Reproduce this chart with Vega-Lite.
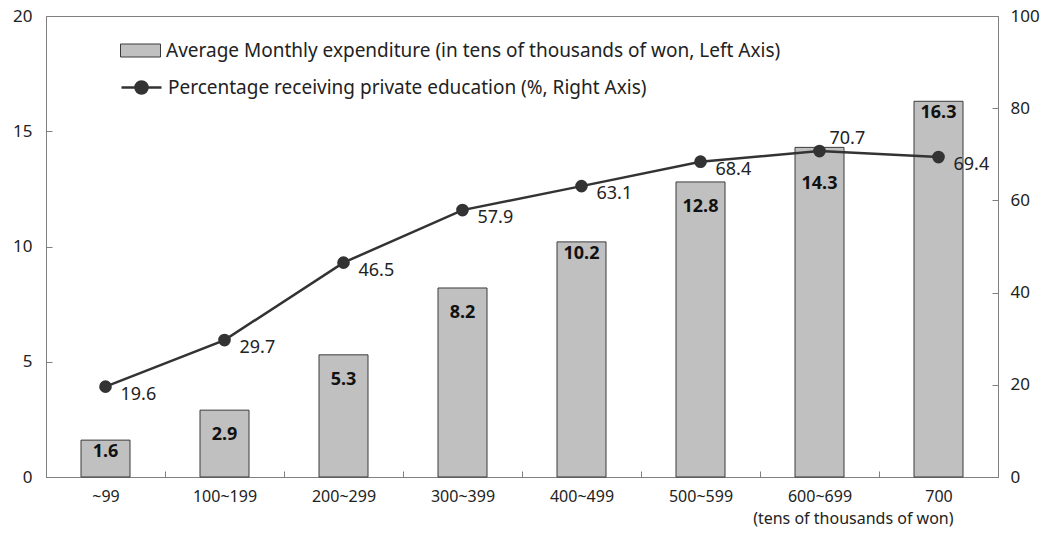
{
  "$schema": "https://vega.github.io/schema/vega-lite/v6.json",
  "width": 952,
  "height": 461,
  "autosize": {"type": "none"},
  "padding": {"left": 46, "top": 16, "right": 50, "bottom": 69},
  "background": "white",
  "config": {
    "font": "Noto Sans",
    "view": {"stroke": "#808080", "strokeWidth": 1},
    "axis": {"domainColor": "#808080", "tickColor": "#808080", "labelColor": "#222222", "labelFont": "Noto Sans", "labelFontSize": 17, "grid": false},
    "legend": {"labelFont": "Noto Sans", "labelFontSize": 19, "labelColor": "#222222", "labelLimit": 900}
  },
  "data": {
    "values": [
      {"cat": "~99", "exp": 1.6, "pct": 19.6},
      {"cat": "100~199", "exp": 2.9, "pct": 29.7},
      {"cat": "200~299", "exp": 5.3, "pct": 46.5},
      {"cat": "300~399", "exp": 8.2, "pct": 57.9},
      {"cat": "400~499", "exp": 10.2, "pct": 63.1},
      {"cat": "500~599", "exp": 12.8, "pct": 68.4},
      {"cat": "600~699", "exp": 14.3, "pct": 70.7},
      {"cat": "700", "exp": 16.3, "pct": 69.4}
    ]
  },
  "encoding": {
    "x": {
      "field": "cat",
      "type": "nominal",
      "sort": null,
      "scale": {"paddingInner": 0, "paddingOuter": 0},
      "axis": {
        "title": "(tens of thousands of won)",
        "titleAnchor": "end",
        "titleFontWeight": "normal",
        "titleFontSize": 16,
        "titleColor": "#222222",
        "titleX": 907,
        "titleY": 33,
        "labelAngle": 0,
        "labelFontSize": 16,
        "tickBand": "extent",
        "tickSize": -6,
        "labelPadding": 17
      }
    }
  },
  "layer": [
    {
      "encoding": {
        "y": {
          "field": "exp",
          "type": "quantitative",
          "scale": {"domain": [0, 20]},
          "axis": {"title": null, "orient": "left", "values": [0, 5, 10, 15, 20], "tickSize": -6, "labelPadding": 20}
        }
      },
      "layer": [
        {
          "mark": {"type": "bar", "size": 49, "stroke": "#3a3a3a", "strokeWidth": 1},
          "encoding": {
            "fill": {
              "datum": "Average Monthly expenditure (in tens of thousands of won, Left Axis)",
              "type": "nominal",
              "scale": {"range": ["#c0c0c0"]},
              "legend": {
                "title": null,
                "orient": "none",
                "legendX": 74,
                "legendY": 14,
                "symbolType": "M-1,-0.325L1,-0.325L1,0.325L-1,0.325Z",
                "symbolSize": 1600,
                "symbolStrokeColor": "#3a3a3a",
                "symbolStrokeWidth": 1,
                "labelOffset": 5
              }
            }
          }
        },
        {
          "transform": [{"filter": "datum.exp == 1.6 || datum.exp == 10.2 || datum.exp == 16.3"}],
          "mark": {"type": "text", "baseline": "middle", "dy": 12, "fontWeight": "bold", "fontSize": 18, "color": "#111111"},
          "encoding": {"text": {"field": "exp", "type": "quantitative", "format": ".1f"}}
        },
        {
          "transform": [{"filter": "datum.exp == 2.9 || datum.exp == 5.3 || datum.exp == 8.2 || datum.exp == 12.8"}],
          "mark": {"type": "text", "baseline": "middle", "dy": 25, "fontWeight": "bold", "fontSize": 18, "color": "#111111"},
          "encoding": {"text": {"field": "exp", "type": "quantitative", "format": ".1f"}}
        },
        {
          "transform": [{"filter": "datum.exp == 14.3"}],
          "mark": {"type": "text", "baseline": "middle", "dy": 37, "fontWeight": "bold", "fontSize": 18, "color": "#111111"},
          "encoding": {"text": {"field": "exp", "type": "quantitative", "format": ".1f"}}
        }
      ]
    },
    {
      "encoding": {
        "y": {
          "field": "pct",
          "type": "quantitative",
          "scale": {"domain": [0, 100]},
          "axis": {"title": null, "orient": "right", "values": [0, 20, 40, 60, 80, 100], "tickSize": -6, "labelPadding": 18}
        }
      },
      "layer": [
        {
          "mark": {"type": "line", "strokeWidth": 2.5},
          "encoding": {
            "stroke": {
              "datum": "Percentage receiving private education (%, Right Axis)",
              "type": "nominal",
              "scale": {"range": ["#333333"]},
              "legend": {
                "title": null,
                "orient": "none",
                "legendX": 74,
                "legendY": 50,
                "symbolType": "M-1,0L1,0M0.3,0A0.3,0.3,0,1,1,-0.3,0A0.3,0.3,0,1,1,0.3,0Z",
                "symbolSize": 1600,
                "symbolFillColor": "#333333",
                "symbolStrokeColor": "#333333",
                "symbolStrokeWidth": 2.5,
                "labelOffset": 5
              }
            }
          }
        },
        {
          "mark": {"type": "point", "filled": true, "color": "#333333", "size": 160, "opacity": 1}
        },
        {
          "transform": [{"filter": "datum.pct != 70.7"}],
          "mark": {"type": "text", "align": "left", "baseline": "middle", "dx": 15, "dy": 8, "fontSize": 18, "color": "#222222"},
          "encoding": {"text": {"field": "pct", "type": "quantitative", "format": ".1f"}}
        },
        {
          "transform": [{"filter": "datum.pct == 70.7"}],
          "mark": {"type": "text", "align": "left", "baseline": "middle", "dx": 10, "dy": -12, "fontSize": 18, "color": "#222222"},
          "encoding": {"text": {"field": "pct", "type": "quantitative", "format": ".1f"}}
        }
      ]
    }
  ],
  "resolve": {"scale": {"y": "independent", "fill": "independent", "stroke": "independent"}}
}
